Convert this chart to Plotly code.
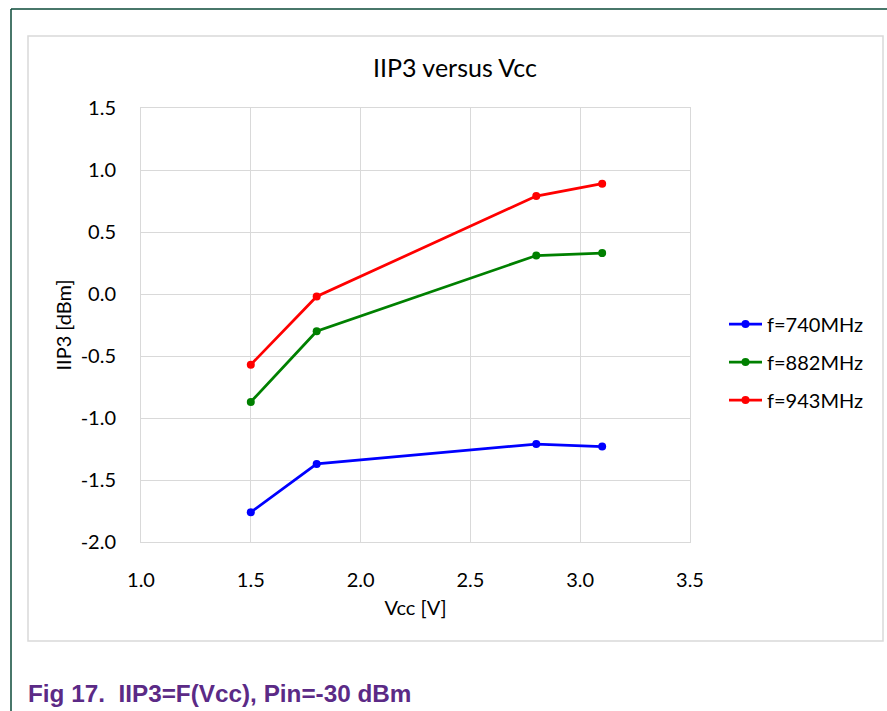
import plotly.graph_objects as go

# Supply voltage sweep (V) and measured IIP3 (dBm) per frequency
vcc = [1.5, 1.8, 2.8, 3.1]
iip3_740 = [-1.76, -1.37, -1.21, -1.23]
iip3_882 = [-0.87, -0.30, 0.31, 0.33]
iip3_943 = [-0.57, -0.02, 0.79, 0.89]

series_names = ["f=740MHz", "f=882MHz", "f=943MHz"]
series_colors = ["#0000FF", "#008000", "#FF0000"]

x_ticks = [1.0, 1.5, 2.0, 2.5, 3.0, 3.5]
x_tick_labels = ["1.0", "1.5", "2.0", "2.5", "3.0", "3.5"]
y_ticks = [-2.0, -1.5, -1.0, -0.5, 0.0, 0.5, 1.0, 1.5]
y_tick_labels = ["-2.0", "-1.5", "-1.0", "-0.5", "0.0", "0.5", "1.0", "1.5"]

FONT = "Lato, 'Open Sans', sans-serif"
W, H = 887, 711
L, R, T, B = 141, 197, 108, 169
PW, PH = W - L - R, H - T - B


def px(x):
    return (x - L) / PW


def py(y):
    return (H - B - y) / PH


fig = go.Figure()
for name, ys, col in zip(series_names, [iip3_740, iip3_882, iip3_943], series_colors):
    fig.add_trace(go.Scatter(
        x=vcc, y=ys, name=name, mode="lines+markers", legendgroup=name,
        line=dict(color=col, width=2.75),
        marker=dict(color=col, size=8),
    ))

grid = "#D9D9D9"
fig.update_layout(
    width=W, height=H,
    margin=dict(l=L, r=R, t=T, b=B),
    paper_bgcolor="white", plot_bgcolor="white",
    font=dict(family=FONT, color="#000000", size=20),
    showlegend=True,
    legend=dict(x=px(724), y=py(362), xanchor="left", yanchor="middle",
                font=dict(size=20, family=FONT), traceorder="grouped",
                tracegroupgap=9, itemwidth=33, bgcolor="rgba(0,0,0,0)"),
    title=dict(text="IIP3 versus Vcc", x=px(455), xref="paper", xanchor="center",
               y=1 - 68 / H, yanchor="middle",
               font=dict(size=25, family=FONT, color="#000000")),
    xaxis=dict(range=[1.0, 3.5], tickvals=x_ticks, ticktext=x_tick_labels,
               showgrid=True, gridcolor=grid, gridwidth=1,
               showline=True, linecolor=grid, mirror=True, zeroline=False,
               ticks="", ticklabelstandoff=20, tickfont=dict(size=20),
               title=dict(text="Vcc [V]", font=dict(size=20), standoff=10)),
    yaxis=dict(range=[-2.0, 1.5], tickvals=y_ticks, ticktext=y_tick_labels,
               showgrid=True, gridcolor=grid, gridwidth=1,
               showline=True, linecolor=grid, mirror=True, zeroline=False,
               ticks="", ticklabelstandoff=20, tickfont=dict(size=20),
               title=dict(text="IIP3 [dBm]", font=dict(size=20), standoff=3)),
)

# Chart frame (light gray) and page frame (dark green)
fig.add_shape(type="rect", xref="paper", yref="paper",
              x0=px(28), x1=px(883), y0=py(641), y1=py(36),
              line=dict(color="#D9D9D9", width=1.5), layer="below")
fig.add_shape(type="line", xref="paper", yref="paper",
              x0=px(11), x1=px(887), y0=py(9), y1=py(9),
              line=dict(color="#0B4A38", width=1.5))
fig.add_shape(type="line", xref="paper", yref="paper",
              x0=px(11), x1=px(11), y0=py(9), y1=py(711),
              line=dict(color="#0B4A38", width=1.5))

fig.add_annotation(
    text="<b>Fig 17.&nbsp;&nbsp;IIP3=F(Vcc), Pin=-30 dBm</b>",
    xref="paper", yref="paper", x=px(26), y=py(693),
    xanchor="left", yanchor="middle", showarrow=False,
    font=dict(family="Liberation Sans, Arial, sans-serif", size=24.3, color="#5B2A86"),
)

fig.write_html("out.html")
